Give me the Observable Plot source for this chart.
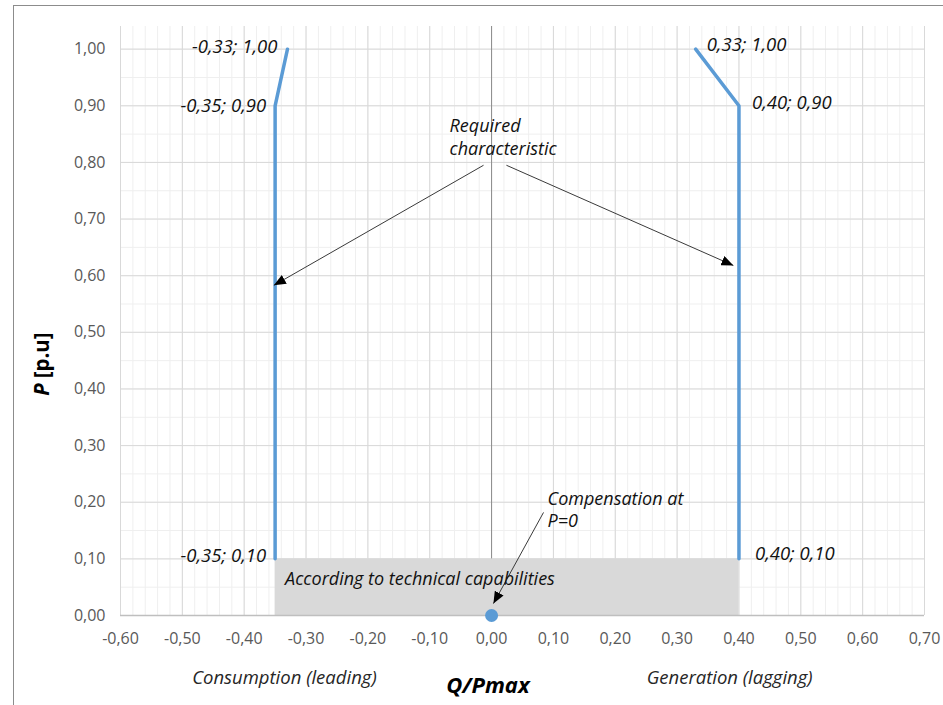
<!DOCTYPE html>
<html>
<head>
<meta charset="utf-8">
<script src="https://cdn.jsdelivr.net/npm/d3@7"></script>
<script src="https://cdn.jsdelivr.net/npm/@observablehq/plot@0.6"></script>
<style>
  html, body { margin: 0; padding: 0; background: #fff; }
  #wrap { position: relative; width: 943px; height: 705px; overflow: hidden; }
  #frame { position: absolute; left: 13px; top: 5px; width: 940px; height: 710px;
           border-top: 1px solid #8c8c8c; border-left: 1px solid #8c8c8c; pointer-events: none; z-index: 2; }
  #chart svg { display: block; }
</style>
</head>
<body>
<div id="wrap"><div id="frame"></div><div id="chart"></div></div>
<script>
// ---- data ----
const xTicks = [-0.6, -0.5, -0.4, -0.3, -0.2, -0.1, 0, 0.1, 0.2, 0.3, 0.4, 0.5, 0.6, 0.7];
const yTicks = [0, 0.1, 0.2, 0.3, 0.4, 0.5, 0.6, 0.7, 0.8, 0.9, 1.0];
const xMinor = d3.range(-30, 36).map(i => i * 0.02);
const yMinor = d3.range(0, 21).map(i => i * 0.05);

// consumption (leading) characteristic
const leftQ = [-0.33, -0.35, -0.35];
const leftP = [1.00, 0.90, 0.10];
// generation (lagging) characteristic
const rightQ = [0.33, 0.40, 0.40];
const rightP = [1.00, 0.90, 0.10];

// area "According to technical capabilities"
const areaQ = [-0.35, 0.40];
const areaP = [0, 0.10];

// compensation point
const compQ = [0];
const compP = [0];

// point labels
const labelText = ["-0,33; 1,00", "-0,35; 0,90", "-0,35; 0,10", "0,33; 1,00", "0,40; 0,90", "0,40; 0,10"];
const labelQ = [-0.33, -0.35, -0.35, 0.33, 0.40, 0.40];
const labelP = [1.00, 0.90, 0.10, 1.00, 0.90, 0.10];

// annotation arrows (start -> end, in Q / P units)
const arrowQ1 = [-0.013, 0.024, 0.084];
const arrowP1 = [0.795, 0.795, 0.182];
const arrowQ2 = [-0.352, 0.391, 0.003];
const arrowP2 = [0.583, 0.618, 0.021];

// annotation texts
const noteText = ["Required\ncharacteristic", "Compensation at\nP=0"];
const noteQ = [-0.068, 0.0905];
const noteP = [0.846, 0.188];

const fmt = d => d.toFixed(2).replace(".", ",");
const blue = "#5B9BD5";
const ink = "#111";

// filled triangular arrow head
function triHead(color, context) {
  const m = context.document.createElementNS("http://www.w3.org/2000/svg", "marker");
  m.setAttribute("viewBox", "-12 -5 12 10");
  m.setAttribute("markerWidth", 12);
  m.setAttribute("markerHeight", 10);
  m.setAttribute("markerUnits", "userSpaceOnUse");
  m.setAttribute("orient", "auto");
  m.setAttribute("fill", "#000");
  m.setAttribute("stroke", "none");
  const p = context.document.createElementNS("http://www.w3.org/2000/svg", "path");
  p.setAttribute("d", "M-12,-5L0,0L-12,5Z");
  m.appendChild(p);
  return m;
}

const labelAnchor = ["end", "end", "end", "start", "start", "start"];
const labelDx = [-10, -9, -9, 11, 13, 16];
const labelDy = [-2, 0, -3, -4, -3, -5];

const pointLabelMarks = labelText.map((t, i) =>
  Plot.text([i], {
    x: () => labelQ[i], y: () => labelP[i], text: () => t,
    textAnchor: labelAnchor[i], dx: labelDx[i], dy: labelDy[i],
    fontStyle: "italic", fontSize: 18.5, fill: ink
  })
);

const leftData = leftQ.map((q, i) => ({q, p: leftP[i]}));
const rightData = rightQ.map((q, i) => ({q, p: rightP[i]}));
const arrows = arrowQ1.map((q, i) => ({x1: q, y1: arrowP1[i], x2: arrowQ2[i], y2: arrowP2[i]}));
const notes = noteText.map((t, i) => ({t, q: noteQ[i], p: noteP[i]}));

const chart = Plot.plot({
  width: 943,
  height: 705,
  marginLeft: 120,
  marginRight: 19,
  marginTop: 26,
  marginBottom: 90,
  x: {domain: [-0.6, 0.7]},
  y: {domain: [0, 1.04]},
  style: {fontFamily: "'Open Sans', Lato, sans-serif", fontSize: "15px", background: "white", overflow: "visible"},
  marks: [
    Plot.ruleX(xMinor, {y1: 0, y2: 1.04, stroke: "#EFEFEF"}),
    Plot.ruleY(yMinor, {x1: -0.6, x2: 0.7, stroke: "#EFEFEF"}),
    Plot.ruleX(xTicks, {y1: 0, y2: 1.04, stroke: "#D9D9D9"}),
    Plot.ruleY(yTicks, {x1: -0.6, x2: 0.7, stroke: "#D9D9D9"}),
    Plot.ruleX([0], {y1: 0, y2: 1.04, stroke: "#8C8C8C"}),
    Plot.rect([0], {x1: () => areaQ[0], x2: () => areaQ[1], y1: () => areaP[0], y2: () => areaP[1], fill: "#D9D9D9"}),
    Plot.ruleY([0], {x1: -0.6, x2: 0.7, stroke: "#BFBFBF", strokeWidth: 1.5}),
    Plot.line(leftData, {x: "q", y: "p", stroke: blue, strokeWidth: 3.5}),
    Plot.line(rightData, {x: "q", y: "p", stroke: blue, strokeWidth: 3.5}),
    Plot.dot(compQ.map((q, i) => ({q, p: compP[i]})), {x: "q", y: "p", r: 6.5, fill: blue, stroke: "none"}),
    Plot.link(arrows, {x1: "x1", y1: "y1", x2: "x2", y2: "y2", stroke: "#3a3a3a", strokeWidth: 1, markerEnd: triHead}),
    ...pointLabelMarks,
    Plot.text([0], {x: () => areaQ[0], y: () => areaP[1], text: () => "According to technical capabilities",
      textAnchor: "start", dx: 10, dy: 20, fontStyle: "italic", fontSize: 18, fill: ink}),
    Plot.text(notes, {x: "q", y: "p", text: "t", textAnchor: "start", lineHeight: 1.25,
      fontStyle: "italic", fontSize: 18, fill: ink}),
    Plot.axisX(xTicks, {tickSize: 0, tickPadding: 17, tickFormat: fmt, color: "#595959", fontSize: 16, label: null}),
    Plot.axisY(yTicks, {tickSize: 0, tickPadding: 15, tickFormat: fmt, color: "#595959", fontSize: 16, label: null}),
    // axis titles
    Plot.text([0.41], {y: d => d, frameAnchor: "left", text: () => "P", rotate: -90, textAnchor: "end",
      dx: -78, fontWeight: "bold", fontStyle: "italic", fontSize: 20.5, fill: "#000"}),
    Plot.text([0.41], {y: d => d, frameAnchor: "left", text: () => "[p.u]", rotate: -90, textAnchor: "start",
      dx: -78, dy: -5, fontWeight: "bold", fontSize: 20.5, fill: "#000"}),
    Plot.text([-0.006], {x: d => d, frameAnchor: "bottom", text: () => "Q/Pmax", dy: 77,
      fontWeight: "bold", fontStyle: "italic", fontSize: 22, fill: "#000"}),
    Plot.text([-0.335], {x: d => d, frameAnchor: "bottom", text: () => "Consumption (leading)", dy: 68,
      fontStyle: "italic", fontSize: 18.5, fill: "#262626"}),
    Plot.text([0.385], {x: d => d, frameAnchor: "bottom", text: () => "Generation (lagging)", dy: 68,
      fontStyle: "italic", fontSize: 18.5, fill: "#262626"})
  ]
});
document.getElementById("chart").appendChild(chart);
</script>
</body>
</html>
